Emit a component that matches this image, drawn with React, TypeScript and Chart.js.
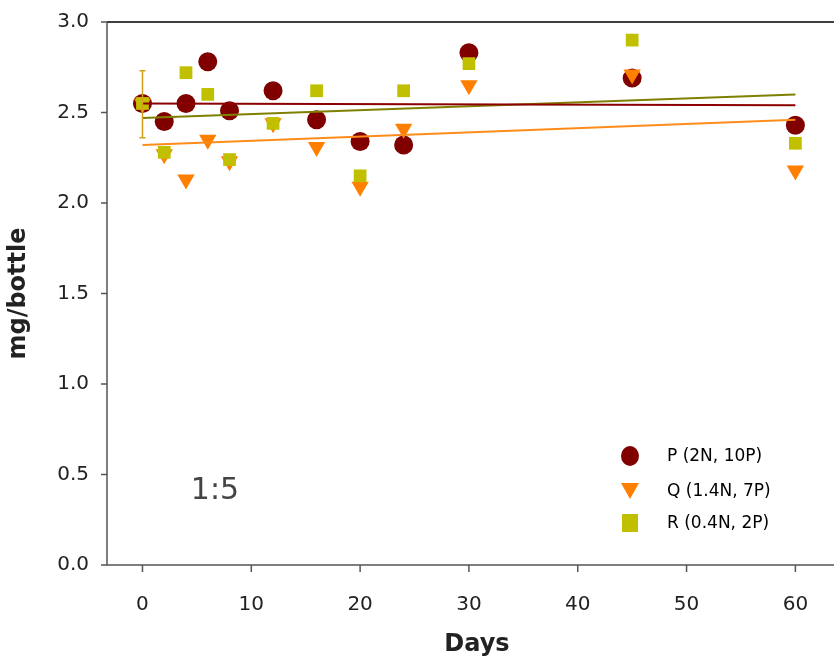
import { useEffect, useRef } from "react";
import { Chart, registerables } from "chart.js";

Chart.register(...registerables);

const days = [0, 2, 4, 6, 8, 12, 16, 20, 24, 30, 45, 60];
const pValues = [2.55, 2.45, 2.55, 2.78, 2.51, 2.62, 2.46, 2.34, 2.32, 2.83, 2.69, 2.43];
const qValues = [2.55, 2.27, 2.13, 2.35, 2.23, 2.44, 2.31, 2.09, 2.41, 2.65, 2.71, 2.18];
const rValues = [2.55, 2.28, 2.72, 2.6, 2.24, 2.44, 2.62, 2.15, 2.62, 2.77, 2.9, 2.33];
const pTrend = [2.55, 2.54];
const qTrend = [2.32, 2.46];
const rTrend = [2.47, 2.6];
const errorBar = { x: 0, low: 2.36, high: 2.73 };
const xTicks = [0, 10, 20, 30, 40, 50, 60];
const yTicks = [0, 0.5, 1, 1.5, 2, 2.5, 3];
const labels = ["P (2N, 10P)", "Q (1.4N, 7P)", "R (0.4N, 2P)"];

const font = "DejaVu Sans";

const extras = {
  id: "extras",
  afterDatasetsDraw(chart) {
    const { ctx, chartArea, scales } = chart;
    const x = scales.x, y = scales.y;
    ctx.save();
    // top border and axis lines
    ctx.strokeStyle = "#000";
    ctx.lineWidth = 1.5;
    ctx.beginPath();
    ctx.moveTo(chartArea.left, chartArea.top);
    ctx.lineTo(chart.width, chartArea.top);
    ctx.stroke();
    ctx.strokeStyle = "#555";
    ctx.beginPath();
    ctx.moveTo(chartArea.left, chartArea.top);
    ctx.lineTo(chartArea.left, chartArea.bottom);
    ctx.lineTo(chart.width, chartArea.bottom);
    ctx.stroke();
    // x ticks and labels
    ctx.fillStyle = "#222";
    ctx.font = `20px ${font}`;
    ctx.textAlign = "center";
    ctx.textBaseline = "middle";
    xTicks.forEach((v) => {
      const px = x.getPixelForValue(v);
      ctx.beginPath();
      ctx.moveTo(px, chartArea.bottom);
      ctx.lineTo(px, chartArea.bottom + 7);
      ctx.stroke();
      ctx.fillText(String(v), px, chartArea.bottom + 40);
    });
    // y tick marks
    yTicks.forEach((v) => {
      const py = y.getPixelForValue(v);
      ctx.beginPath();
      ctx.moveTo(chartArea.left - 6, py);
      ctx.lineTo(chartArea.left, py);
      ctx.stroke();
    });
    // error bar
    const ex = x.getPixelForValue(errorBar.x);
    const y1 = y.getPixelForValue(errorBar.low), y2 = y.getPixelForValue(errorBar.high);
    ctx.strokeStyle = "#d4a017";
    ctx.lineWidth = 1.5;
    ctx.beginPath();
    ctx.moveTo(ex, y1); ctx.lineTo(ex, y2);
    ctx.moveTo(ex - 3, y1); ctx.lineTo(ex + 3, y1);
    ctx.moveTo(ex - 3, y2); ctx.lineTo(ex + 3, y2);
    ctx.stroke();
    // x title
    ctx.fillStyle = "#222";
    ctx.font = `bold 24px ${font}`;
    ctx.fillText("Days", 477, 645);
    // label
    ctx.fillStyle = "#444";
    ctx.font = `30px ${font}`;
    ctx.fillText("1:5", 215, 491);
    // legend
    ctx.font = `17px ${font}`;
    ctx.textAlign = "left";
    const lx = 630;
    ctx.fillStyle = "#800000";
    ctx.beginPath(); ctx.ellipse(lx, 456, 9, 10, 0, 0, Math.PI * 2); ctx.fill();
    ctx.fillStyle = "#ff7f00";
    ctx.beginPath(); ctx.moveTo(lx - 9, 483); ctx.lineTo(lx + 9, 483); ctx.lineTo(lx, 499); ctx.closePath(); ctx.fill();
    ctx.fillStyle = "#c0c000";
    ctx.fillRect(lx - 8, 514, 16, 18);
    ctx.fillStyle = "#000";
    ctx.fillText(labels[0], 667, 457);
    ctx.fillText(labels[1], 667, 492);
    ctx.fillText(labels[2], 667, 524);
    ctx.restore();
  },
};

const pts = (vals) => days.map((d, i) => ({ x: d, y: vals[i] }));
const trend = (v) => [{ x: 0, y: v[0] }, { x: 60, y: v[1] }];

export default function App() {
  const ref = useRef(null);
  useEffect(() => {
    document.body.style.margin = "0";
    const chart = new Chart(ref.current, {
      type: "scatter",
      data: {
        datasets: [
          { order: 4, data: pts(pValues), pointStyle: "circle", pointRadius: 9.5, backgroundColor: "#800000", borderWidth: 0 },
          { order: 3, data: pts(qValues), pointStyle: "triangle", rotation: 180, pointRadius: 10, backgroundColor: "#ff7f00", borderWidth: 0 },
          { order: 2, data: pts(rValues), pointStyle: "rect", pointRadius: 9, backgroundColor: "#c0c000", borderWidth: 0 },
          { order: 1, type: "line", data: trend(pTrend), borderColor: "#8b0000", borderWidth: 2, pointRadius: 0 },
          { order: 1, type: "line", data: trend(qTrend), borderColor: "#ff8c1a", borderWidth: 2, pointRadius: 0 },
          { order: 1, type: "line", data: trend(rTrend), borderColor: "#7f8000", borderWidth: 2, pointRadius: 0 },
        ],
      },
      options: {
        animation: false,
        responsive: false,
        layout: { padding: { top: 18, right: 0, bottom: 0 } },
        plugins: { legend: { display: false }, tooltip: { enabled: false } },
        scales: {
          x: {
            type: "linear", min: -3.26, max: 62.63,
            display: true,
            afterFit: (s) => { s.height = 98; s.paddingLeft = 0; s.paddingRight = 0; },
            grid: { display: false },
            border: { display: false },
            ticks: { display: false },
          },
          y: {
            min: 0, max: 3,
            afterFit: (s) => { s.width = 107; },
            grid: { display: false },
            border: { display: false },
            ticks: { stepSize: 0.5, color: "#222", padding: 10, font: { family: font, size: 20 }, callback: (v) => Number(v).toFixed(1) },
            title: { display: true, text: "mg/bottle", color: "#222", font: { family: font, size: 24, weight: "bold" } },
          },
        },
      },
      plugins: [extras],
    });
    return () => chart.destroy();
  }, []);
  return <canvas ref={ref} width={834} height={663} />;
}
